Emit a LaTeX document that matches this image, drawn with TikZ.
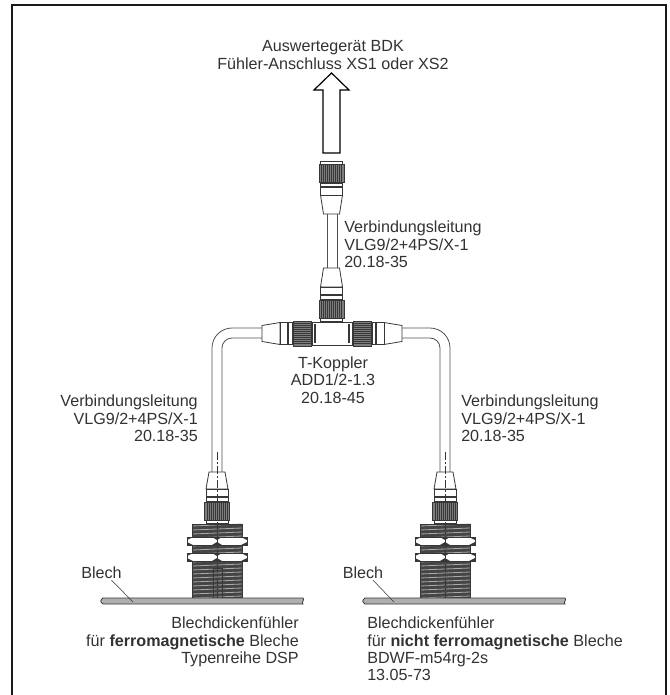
\documentclass[tikz,border=0pt]{standalone}
\usepackage{fontspec}
\setmainfont{Liberation Sans}
\usepackage{tikz}
\usetikzlibrary{positioning}
\definecolor{frameblack}{RGB}{25,25,25}
\definecolor{darktext}{RGB}{50,50,50}
\definecolor{partline}{RGB}{55,55,55}
\definecolor{cablegrey}{RGB}{80,80,80}
\definecolor{knurlgrey}{RGB}{125,125,125}
\definecolor{threadgrey}{RGB}{170,170,170}
\definecolor{sheetgrey}{RGB}{175,175,175}
\tikzset{
  base/.style={font=\fontsize{12.1pt}{13pt}\selectfont, align=center, inner sep=0pt, text=darktext},
  lbl/.style={base, align=left, anchor=north west},
  lblr/.style={base, align=right, anchor=north east},
  part/.style={draw=partline, line width=0.6pt, fill=white},
  cable/.style={draw=cablegrey, line width=0.6pt},
  axisline/.style={draw=partline, line width=0.4pt, dash pattern=on 6pt off 1.5pt on 1.5pt off 1.5pt},
  leader/.style={draw=partline, line width=0.4pt},
  pics/plug/.style={code={
    \draw[part] (-8,0) -- (8,0) -- (11,#1) -- (-11,#1) -- cycle;
    \draw[part] (-11,#1) rectangle (11,#1+12);
    \draw[draw=partline,line width=0.8pt] (-11,#1+8) -- (11,#1+8);
    \draw[part] (-11,#1+31) rectangle (11,#1+34);
    \fill[knurlgrey] (-12.5,#1+13) rectangle (12.5,#1+31);
    \foreach \k in {-10,-8,...,10}{\draw[draw=partline,line width=0.5pt] (\k,#1+13) -- (\k,#1+31);}
    \draw[draw=partline,line width=0.6pt] (-12.5,#1+13) rectangle (12.5,#1+31);
  }},
}
\begin{document}
\begin{tikzpicture}[x=0.75pt,y=-0.75pt]
  \useasboundingbox (0,0) rectangle (669,695);
  % frame, open at the lower edge
  \draw[draw=frameblack,line width=1.5pt] (12,695) |- (666,5) -- (666,695);
  % arrow to the evaluation unit
  \draw[part,line width=0.9pt,draw=black] (323,153) -- (323,90) -- (314,90) -- (331.5,73) -- (349,90) -- (340,90) -- (340,153) -- cycle;
  \node[base] (unit) at (333,55) {Auswertegerät BDK\\Fühler-Anschluss XS1 oder XS2};
  % upper cable
  \pic[rotate=180] at (331.5,214) {plug=19};
  \draw[cable] (327,214) -- (327,268) (337,214) -- (337,268);
  \pic at (331.5,268) {plug=19};
  \node[lbl] (cabletop) at (344,221) {Verbindungsleitung\\VLG9/2+4PS/X-1\\20.18-35};
  % side cables
  \draw[cable,rounded corners=15pt] (262,328) -| (212,472);
  \draw[cable,rounded corners=7.5pt] (262,338) -| (222,472);
  \draw[cable,rounded corners=15pt] (402,328) -| (450,472);
  \draw[cable,rounded corners=7.5pt] (402,338) -| (440,472);
  \pic[rotate=90] at (262,333.5) {plug=18};
  \pic[rotate=-90] at (402,333.5) {plug=18};
  % T coupler
  \draw[part] (312,322) rectangle (352,345);
  \foreach \x in {315,349}{\draw[draw=partline,line width=0.8pt] (\x,324) -- (\x,343);}
  \node[base] (coupler) at (333,380) {T-Koppler\\ADD1/2-1.3\\20.18-45};
  \node[lblr] (cableleft) at (198,395) {Verbindungsleitung\\VLG9/2+4PS/X-1\\20.18-35};
  \node[lbl] (cableright) at (461,395) {Verbindungsleitung\\VLG9/2+4PS/X-1\\20.18-35};
  % sensors
  \foreach \c/\a/\b in {217/103/303,445/365/565}{
    \fill[knurlgrey!55!black] (\c-25,524) rectangle (\c+25,598);
    \foreach \y in {526,530,...,598}{\draw[draw=threadgrey,line width=0.6pt] (\c-25,\y) -- (\c+25,\y-2);}
    \draw[draw=partline,line width=0.6pt] (\c-25,598) |- (\c+25,524) -- (\c+25,598);
    \foreach \y in {537,553}{
      \draw[part] (\c-30,\y) rectangle (\c+30,\y+8);
      \fill[partline] (\c-30,\y) -- (\c-24,\y) -- (\c-30,\y+3) -- cycle (\c-30,\y+8) -- (\c-24,\y+8) -- (\c-30,\y+5) -- cycle;
      \fill[partline] (\c+30,\y) -- (\c+24,\y) -- (\c+30,\y+3) -- cycle (\c+30,\y+8) -- (\c+24,\y+8) -- (\c+30,\y+5) -- cycle;
      \fill[partline] (\c-5,\y) -- (\c+5,\y) -- (\c,\y+3) -- cycle (\c-5,\y+8) -- (\c+5,\y+8) -- (\c,\y+5) -- cycle;
    }
    \pic at (\c,472) {plug=17};
    \draw[part,fill=sheetgrey] (\a,598) -- (\b,598) .. controls (\b+2,600) and (\b-2,602) .. (\b,604) -- (\a,604) .. controls (\a-3,602) and (\a-3,600) .. (\a,598) -- cycle;
    \draw[axisline] (\c,452) -- (\c,598);
  }
  \draw[draw=partline,line width=0.4pt] (213,598) |- (222,568) -- (222,598);
  % sheet labels
  \node[base] (sheetleft) at (101.5,573) {Blech};
  \coordinate (sheetlefttip) at (133,602);
  \draw[leader] (sheetleft.south) ++(10,1) -- (sheetlefttip);
  \node[base] (sheetright) at (363,573) {Blech};
  \coordinate (sheetrighttip) at (394,602);
  \draw[leader] (sheetright.south) ++(10,1) -- (sheetrighttip);
  \node[lblr] (textleft) at (299,617) {Blechdickenfühler\\für \textbf{ferromagnetische} Bleche\\Typenreihe DSP};
  \node[lbl] (textright) at (367,617) {Blechdickenfühler\\für \textbf{nicht ferromagnetische} Bleche\\BDWF-m54rg-2s\\13.05-73};
\end{tikzpicture}
\end{document}
